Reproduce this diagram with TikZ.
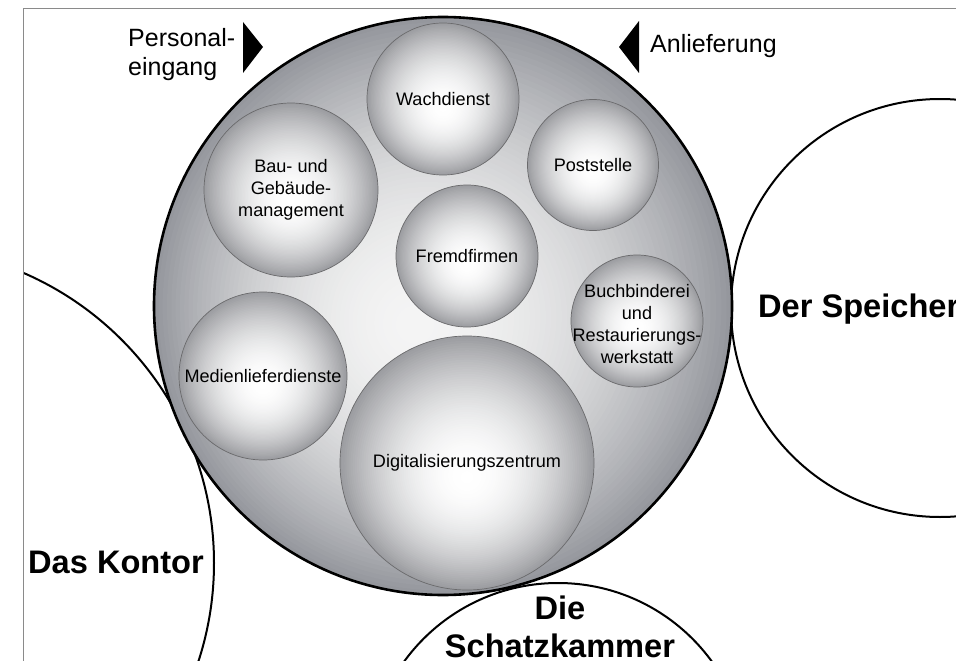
\documentclass[tikz,border=0pt]{standalone}
\usepackage{fontspec}
\setmainfont{Liberation Sans}

% colours
\definecolor{hallCore}{HTML}{F4F4F4}
\definecolor{hallEdge}{HTML}{95979D}
\definecolor{ballCore}{HTML}{FFFFFF}
\definecolor{ballEdge}{HTML}{9C9DA1}
\definecolor{ballLine}{HTML}{6A6A6C}
\definecolor{frameGray}{HTML}{8A8A8A}

% soft radial fill built from concentric discs:
% #1,#2 centre, #3 radius, #4,#5 drift of the highlight, #6 edge colour, #7 core colour
\newcommand\discgradient[7]{%
  \foreach \k in {0,...,58}{%
    \pgfmathsetmacro\gs{1-\k/60}%
    \pgfmathsetmacro\gp{100*\gs*\gs}%
    \pgfmathsetmacro\gx{#1+(#4)*(1-\gs)}%
    \pgfmathsetmacro\gy{#2+(#5)*(1-\gs)}%
    \pgfmathsetmacro\gr{#3*\gs}%
    \fill[#6!\gp!#7] (\gx,\gy) circle[radius=\gr];
  }}

\begin{document}
\begin{tikzpicture}[x=1pt,y=-1pt,
  zone/.style={circle, draw=black, line width=2pt, inner sep=0pt},
  hall/.style={circle, draw=black, line width=2.6pt, inner sep=0pt},
  ball/.style={circle, draw=ballLine, line width=0.7pt, inner sep=0pt},
  balltext/.style={font=\fontsize{18.1}{22}\selectfont, align=center, inner sep=0pt},
  zonetext/.style={font=\fontsize{32.6}{38}\selectfont\bfseries, inner sep=0pt},
  doortext/.style={font=\fontsize{25}{29}\selectfont, inner sep=0pt},
  door/.style={fill=black},
  frameline/.style={draw=frameGray, line width=1pt}]
\useasboundingbox (0,0) rectangle (956,661);

\begin{scope}
  \clip (23,9) rectangle (956,661);

  % neighbouring areas
  \node[zone, minimum size=632pt] (kontor) at (-102,563) {};
  \node[zone, minimum size=418pt] (speicher) at (940,308) {};
  \node[zone, minimum size=380pt] (schatz) at (558,773) {};

  \node[zonetext, anchor=base west] (kontorlabel) at (28,573) {Das Kontor};
  \node[zonetext, anchor=base west] (speicherlabel) at (758,317) {Der Speicher};
  \node[zonetext, align=center, anchor=north] (schatzlabel) at (560,596)
    {Die\\Schatzkammer};

  % the central hall: shaded body
  \discgradient{443}{306}{289}{-30}{20}{hallEdge}{hallCore}

  % units inside the hall: shaded bodies
  \discgradient{443}{99}{76}{0}{10}{ballEdge}{ballCore}
  \discgradient{593}{165}{65.5}{0}{8}{ballEdge}{ballCore}
  \discgradient{291}{190}{87}{0}{11}{ballEdge}{ballCore}
  \discgradient{467}{256}{71}{0}{9}{ballEdge}{ballCore}
  \discgradient{637}{321}{66}{0}{8}{ballEdge}{ballCore}
  \discgradient{263}{376}{84}{0}{10}{ballEdge}{ballCore}
  \discgradient{467}{463}{127}{0}{15}{ballEdge}{ballCore}

  % units inside the hall: outlines and names
  \node[ball, minimum size=152pt] (wach) at (443,99) {};
  \node[ball, minimum size=131pt] (post) at (593,165) {};
  \node[ball, minimum size=174pt] (bau) at (291,190) {};
  \node[ball, minimum size=142pt] (fremd) at (467,256) {};
  \node[ball, minimum size=132pt] (buch) at (637,321) {};
  \node[ball, minimum size=168pt] (medien) at (263,376) {};
  \node[ball, minimum size=254pt] (digi) at (467,463) {};

  \node[balltext] (wachlabel) at (wach) {Wachdienst};
  \node[balltext] (postlabel) at (post) {Poststelle};
  \node[balltext] (baulabel) at (bau) {Bau- und\\Gebäude-\\management};
  \node[balltext] (fremdlabel) at (fremd) {Fremdfirmen};
  \node[balltext] (buchlabel) at ([yshift=-3pt]buch.center)
    {Buchbinderei\\und\\Restaurierungs-\\werkstatt};
  \node[balltext] (medienlabel) at (medien) {Medienlieferdienste};
  \node[balltext] (digilabel) at (digi) {Digitalisierungszentrum};

  % outline of the hall on top
  \node[hall, minimum size=578pt] (hall) at (443,306) {};

  % entrances
  \fill[door] (243,22) -- (263,47) -- (243,73) -- cycle;
  \fill[door] (639,21) -- (619,47) -- (639,73) -- cycle;
  \node[doortext, align=left, anchor=north west] (personal) at (128,28)
    {Personal-\\eingang};
  \node[doortext, anchor=base west] (anlieferung) at (650,53) {Anlieferung};
\end{scope}

% frame
\draw[frameline] (956,9) -- (23,9) -- (23,661);
\end{tikzpicture}
\end{document}
